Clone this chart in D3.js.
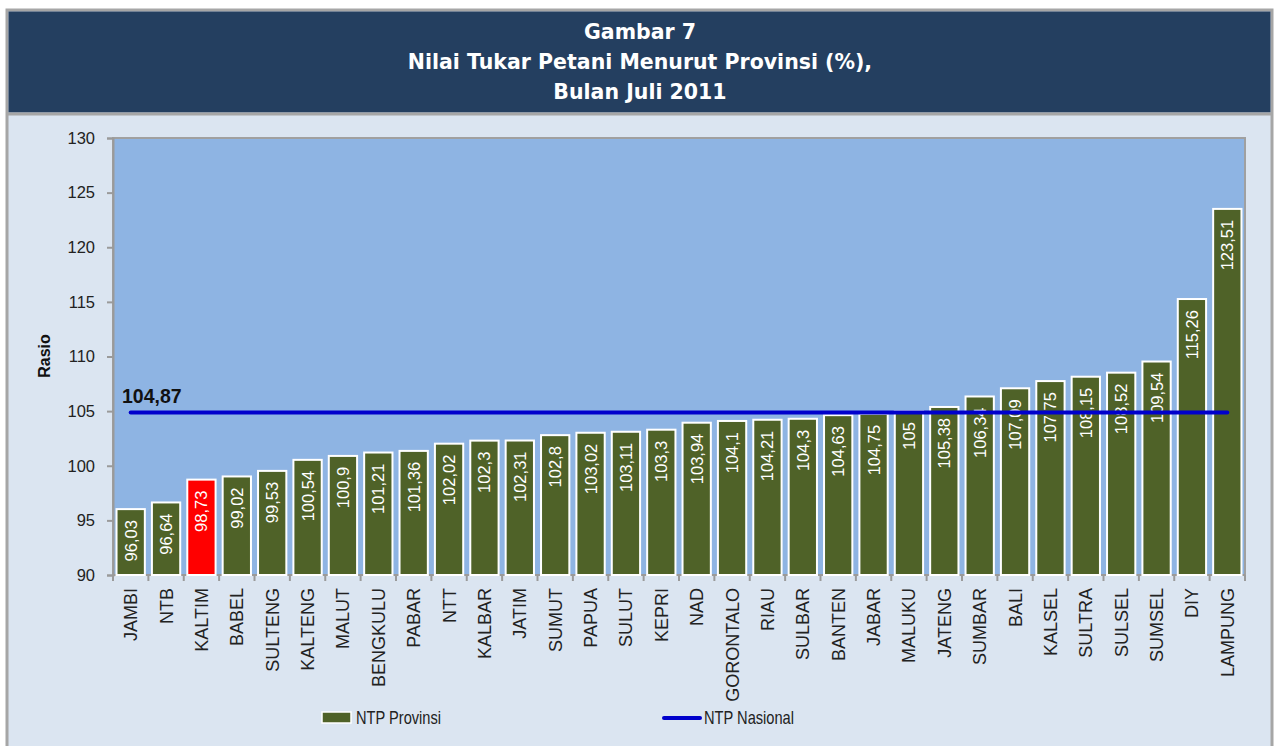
<!DOCTYPE html>
<html lang="id">
<head>
<meta charset="UTF-8">
<title>Nilai Tukar Petani Menurut Provinsi</title>
<style>
  body { margin: 0; background: #fff; }
  svg text { font-family: "Liberation Sans", Arial, sans-serif; }
</style>
</head>
<body>
<svg id="chart" width="1274" height="746"></svg>
<script src="https://cdnjs.cloudflare.com/ajax/libs/d3/7.8.5/d3.min.js"></script>
<script>
const provinces = ["JAMBI", "NTB", "KALTIM", "BABEL", "SULTENG", "KALTENG", "MALUT", "BENGKULU",
  "PABAR", "NTT", "KALBAR", "JATIM", "SUMUT", "PAPUA", "SULUT", "KEPRI", "NAD", "GORONTALO",
  "RIAU", "SULBAR", "BANTEN", "JABAR", "MALUKU", "JATENG", "SUMBAR", "BALI", "KALSEL",
  "SULTRA", "SULSEL", "SUMSEL", "DIY", "LAMPUNG"];
const ntpProvinsi = [96.03, 96.64, 98.73, 99.02, 99.53, 100.54, 100.9, 101.21,
  101.36, 102.02, 102.3, 102.31, 102.8, 103.02, 103.11, 103.3, 103.94, 104.1,
  104.21, 104.3, 104.63, 104.75, 105, 105.38, 106.34, 107.09, 107.75,
  108.15, 108.52, 109.54, 115.26, 123.51];
const ntpNasional = 104.87;
const highlight = "KALTIM";
const yTicks = [90, 95, 100, 105, 110, 115, 120, 125, 130];
const titleLines = ["Gambar 7", "Nilai Tukar Petani Menurut Provinsi (%),", "Bulan Juli 2011"];

const svg = d3.select("#chart");
const comma = v => String(v).replace(".", ",");

// frame
svg.append("rect").attr("x", 0).attr("y", 0).attr("width", 1274).attr("height", 746).attr("fill", "#fff");
svg.append("rect").attr("x", 7).attr("y", 10).attr("width", 1265).attr("height", 740)
  .attr("fill", "#DBE5F1").attr("stroke", "#A6A6A6").attr("stroke-width", 3);
svg.append("rect").attr("x", 8.5).attr("y", 11.5).attr("width", 1262).attr("height", 101)
  .attr("fill", "#243F60");
svg.append("line").attr("x1", 8).attr("x2", 1271).attr("y1", 114).attr("y2", 114)
  .attr("stroke", "#A6A6A6").attr("stroke-width", 3);

svg.append("g").selectAll("text").data(titleLines).join("text")
  .attr("x", 640).attr("y", (d, i) => 39 + i * 30)
  .attr("text-anchor", "middle")
  .attr("fill", "#fff")
  .style("font-family", "'DejaVu Sans', Verdana, sans-serif")
  .style("font-weight", "bold")
  .style("font-size", "20.5px")
  .text(d => d);

const m = { left: 113, right: 1245, top: 138, bottom: 575 };
const x = d3.scaleBand().domain(provinces).range([m.left, m.right]).paddingInner(0.2).paddingOuter(0.1);
const y = d3.scaleLinear().domain([90, 130]).range([m.bottom, m.top]);

svg.append("rect").attr("x", m.left).attr("y", m.top)
  .attr("width", m.right - m.left).attr("height", m.bottom - m.top)
  .attr("fill", "#8EB4E3").attr("stroke", "#A0A0A0").attr("stroke-width", 2);

// y axis
const yAxis = svg.append("g").attr("transform", `translate(${m.left},0)`)
  .call(d3.axisLeft(y).tickValues(yTicks).tickSize(6).tickPadding(12));
yAxis.select(".domain").attr("stroke", "#9A9A9A").attr("stroke-width", 2);
yAxis.selectAll(".tick line").attr("stroke", "#9A9A9A").attr("stroke-width", 2);
yAxis.selectAll(".tick text").attr("fill", "#222").style("font-size", "16.5px");

svg.append("text")
  .attr("transform", "translate(50,356) rotate(-90)")
  .attr("text-anchor", "middle")
  .style("font-size", "16px").style("font-weight", "bold").attr("fill", "#111")
  .text("Rasio");

// x axis with ticks at band edges
const xg = svg.append("g").attr("transform", `translate(0,${m.bottom})`);
xg.append("line").attr("x1", m.left).attr("x2", m.right).attr("stroke", "#9A9A9A").attr("stroke-width", 2);
xg.selectAll("line.tk").data(d3.range(provinces.length + 1)).join("line")
  .attr("class", "tk")
  .attr("x1", i => m.left + i * (m.right - m.left) / provinces.length)
  .attr("x2", i => m.left + i * (m.right - m.left) / provinces.length)
  .attr("y1", 0).attr("y2", 6)
  .attr("stroke", "#9A9A9A").attr("stroke-width", 2);
xg.selectAll("text").data(provinces).join("text")
  .attr("transform", d => `translate(${x(d) + x.bandwidth() / 2 + 6.5},13) rotate(-90)`)
  .attr("text-anchor", "end")
  .style("font-size", "18px").attr("fill", "#222")
  .text(d => d);

// bars
const bars = provinces.map((p, i) => ({ p, v: ntpProvinsi[i] }));
svg.append("g").selectAll("rect").data(bars).join("rect")
  .attr("x", d => x(d.p))
  .attr("y", d => y(d.v))
  .attr("width", x.bandwidth())
  .attr("height", d => y(90) - y(d.v))
  .attr("fill", d => d.p === highlight ? "#FF0000" : "#4F6228")
  .attr("stroke", "#fff").attr("stroke-width", 2);

svg.append("g").selectAll("text").data(bars).join("text")
  .attr("transform", d => `translate(${x(d.p) + x.bandwidth() / 2 + 6},${y(d.v) + 11}) rotate(-90)`)
  .attr("text-anchor", "end")
  .style("font-size", "16.5px").attr("fill", "#fff")
  .text(d => comma(d.v));

// national line
svg.append("line")
  .attr("x1", x(provinces[0]) + x.bandwidth() / 2)
  .attr("x2", x(provinces[provinces.length - 1]) + x.bandwidth() / 2)
  .attr("y1", y(ntpNasional)).attr("y2", y(ntpNasional))
  .attr("stroke", "#0000CC").attr("stroke-width", 4).attr("stroke-linecap", "round");
svg.append("text")
  .attr("x", 122).attr("y", y(ntpNasional) - 10)
  .style("font-size", "19.5px").style("font-weight", "bold").attr("fill", "#111")
  .text(comma(ntpNasional));

// legend
const lg = svg.append("g");
lg.append("rect").attr("x", 322).attr("y", 712).attr("width", 29).attr("height", 11)
  .attr("fill", "#4F6228").attr("stroke", "#fff").attr("stroke-width", 1.5);
lg.append("text").attr("x", 356).attr("y", 724).style("font-size", "19px").attr("fill", "#222")
  .attr("textLength", 85).attr("lengthAdjust", "spacingAndGlyphs").text("NTP Provinsi");
lg.append("line").attr("x1", 664).attr("x2", 700).attr("y1", 718).attr("y2", 718)
  .attr("stroke", "#0000CC").attr("stroke-width", 4).attr("stroke-linecap", "round");
lg.append("text").attr("x", 704).attr("y", 724).style("font-size", "19px").attr("fill", "#222")
  .attr("textLength", 90).attr("lengthAdjust", "spacingAndGlyphs").text("NTP Nasional");
</script>
</body>
</html>
